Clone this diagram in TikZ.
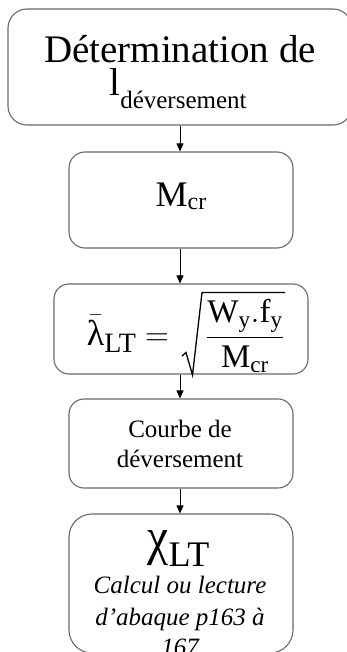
\RequirePackage{fix-cm}
\documentclass[tikz,border=0pt]{standalone}
\usepackage{fontspec}
\setmainfont{Liberation Serif}
\usetikzlibrary{arrows.meta}
\definecolor{boxgray}{RGB}{105,105,105}
\begin{document}
\begin{tikzpicture}[x=1pt,y=-1pt,
  box/.style={draw=boxgray, line width=1.1pt, rounded corners=#1, inner sep=0pt, fill=white},
  lbl/.style={anchor=base, inner sep=0pt},
  link/.style={line width=0.9pt, -{Triangle[length=8pt,width=7pt]}}]
\fill[white] (0,0) rectangle (347,652);
\useasboundingbox (0,0) rectangle (347,652);
\clip (0,0) rectangle (347,652);
% boxes
\node[box=19pt, minimum width=344pt, minimum height=116pt] (b1) at (180,67) {};
\node[box=16pt, minimum width=224pt, minimum height=96pt] (b2) at (181,200) {};
\node[box=15pt, minimum width=254pt, minimum height=90pt] (b3) at (181,329) {};
\node[box=15pt, minimum width=224pt, minimum height=89pt] (b4) at (181,443.5) {};
\node[box=23pt, minimum width=224pt, minimum height=139pt] (b5) at (181,583.5) {};
% connectors
\draw[link] (b1.south -| 180,0) -- (b2.north -| 180,0);
\draw[link] (b2.south -| 180,0) -- (b3.north -| 180,0);
\draw[link] (b3.south -| 180,0) -- (b4.north -| 180,0);
\draw[link] (b4.south -| 180,0) -- (b5.north -| 180,0);
% texts
\node[lbl, font=\fontsize{39}{39}\selectfont] (t1a) at (180,63) {Détermination de};
\node[lbl, font=\fontsize{39}{39}\selectfont] (t1b) at (178,96) {l\raisebox{-13pt}{\fontsize{25}{25}\selectfont déversement}};
\node[lbl, font=\fontsize{36}{36}\selectfont] (t2) at (181,207) {M\raisebox{-3pt}{\fontsize{24}{24}\selectfont cr}};
% formula: left part, fraction, hand-drawn radical
\node[anchor=base east, inner sep=0pt, font=\fontsize{33}{33}\selectfont] (t3a) at (169,345) {$\bar{\mbox{\fontsize{36}{36}\selectfont λ}}$\raisebox{-7pt}{\fontsize{28}{28}\selectfont LT}\hspace{9pt}$=$};
\node[lbl, font=\fontsize{33}{33}\selectfont] (t3b) at (245,345) {$\displaystyle \frac{\mathrm{W_y.f_y}}{\mathrm{M_{cr}}}$};
\draw[line width=1.3pt, line join=miter] (182,356) -- (186,352.5) -- (192.5,375) -- (202,292.5) -- (285,292.5);
\node[lbl, font=\fontsize{25}{25}\selectfont] (t4a) at (180,437) {Courbe de};
\node[lbl, font=\fontsize{25}{25}\selectfont] (t4b) at (180,467) {déversement};
\node[lbl, font=\fontsize{36}{36}\selectfont] (t5a) at (178.5,566) {\resizebox{21pt}{35pt}{\raisebox{\depth}{χ}}LT};
\node[lbl, font=\fontsize{25}{25}\selectfont\itshape] (t5b) at (180,593) {Calcul ou lecture};
\node[lbl, font=\fontsize{25}{25}\selectfont\itshape] (t5c) at (180,625) {d’abaque p163 à};
\node[lbl, font=\fontsize{25}{25}\selectfont\itshape] (t5d) at (180,655) {167};
\end{tikzpicture}
\end{document}
